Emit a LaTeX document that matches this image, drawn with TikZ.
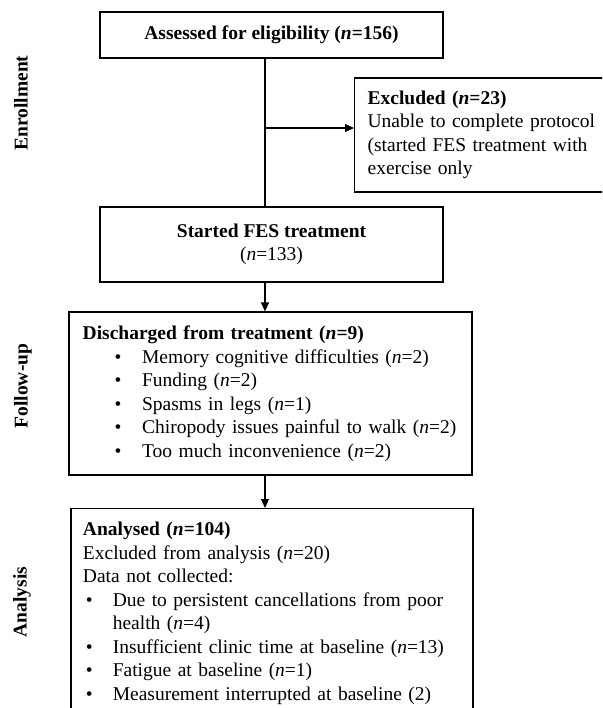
\documentclass[tikz,border=0pt]{standalone}
\usepackage{fontspec}
\setmainfont{Liberation Serif}
\usetikzlibrary{arrows.meta, positioning}

\newcommand{\dischitem}[1]{\hspace*{16pt}\makebox[13.7pt][l]{\textbullet}\mbox{#1}}
\newcommand{\analitem}[1]{\hspace*{1.4pt}\makebox[13.5pt][l]{\textbullet}\mbox{#1}}

\begin{document}
\begin{tikzpicture}[x=0.5pt, y=-0.5pt, font=\fontsize{9.75}{11.75}\selectfont,
  box/.style={draw, line width=0.6pt, rectangle},
  phase/.style={rotate=90, font=\fontsize{9.75}{11.75}\selectfont\bfseries},
  link/.style={line width=0.6pt},
  arr/.style={line width=0.6pt, -{Triangle[length=4.5pt, width=4pt]}}]
  \useasboundingbox (0,0) rectangle (602,708);
  \clip (0,0) rectangle (602,708);
  \coordinate (trunk) at (265,128);
  \node[box, minimum width=171.5pt, minimum height=23pt, align=center] (assess) at (271.5,35) {\textbf{Assessed for eligibility (\textit{n}=156)}};
  \node[box, anchor=west, minimum width=143pt, minimum height=57pt, inner xsep=6.5pt, text width=130pt, align=left] (excl) at (354,135) {\textbf{Excluded (\textit{n}=23)}\\Unable to complete protocol\\(started FES treatment with\\exercise only};
  \node[box, minimum width=171.5pt, minimum height=37.5pt, align=center] (started) at (271.5,244.5) {\textbf{Started FES treatment}\\(\textit{n}=133)};
  \node[box, minimum width=201.5pt, minimum height=81.5pt, inner xsep=6.85pt, text width=187.8pt, align=left] (disch) at (270.5,393.5) {\textbf{Discharged from treatment (\textit{n}=9)}\\\dischitem{Memory cognitive difficulties (\textit{n}=2)}\\\dischitem{Funding (\textit{n}=2)}\\\dischitem{Spasms in legs (\textit{n}=1)}\\\dischitem{Chiropody issues painful to walk (\textit{n}=2)}\\\dischitem{Too much inconvenience (\textit{n}=2)}};
  \node[box, anchor=north, minimum width=201pt, minimum height=104.5pt, inner xsep=6pt, text width=189pt, align=left] (analysed) at (272,508) {\textbf{Analysed (\textit{n}=104)}\\Excluded from analysis (\textit{n}=20)\\Data not collected:\\\analitem{Due to persistent cancellations from poor}\\\hspace*{14.9pt}health (\textit{n}=4)\\\analitem{Insufficient clinic time at baseline (\textit{n}=13)}\\\analitem{Fatigue at baseline (\textit{n}=1)}\\\analitem{Measurement interrupted at baseline (2)}};
  \node[phase] (enrol) at (21,103) {Enrollment};
  \node[phase] (follow) at (23,386) {Follow-up};
  \node[phase] (analysis) at (22,602) {Analysis};
  \draw[link] (assess.south -| trunk) -- (started.north -| trunk);
  \draw[arr] (trunk) -- (trunk -| excl.west);
  \draw[arr] (started.south -| trunk) -- (disch.north -| trunk);
  \draw[arr] (disch.south -| trunk) -- (analysed.north -| trunk);
\end{tikzpicture}
\end{document}
